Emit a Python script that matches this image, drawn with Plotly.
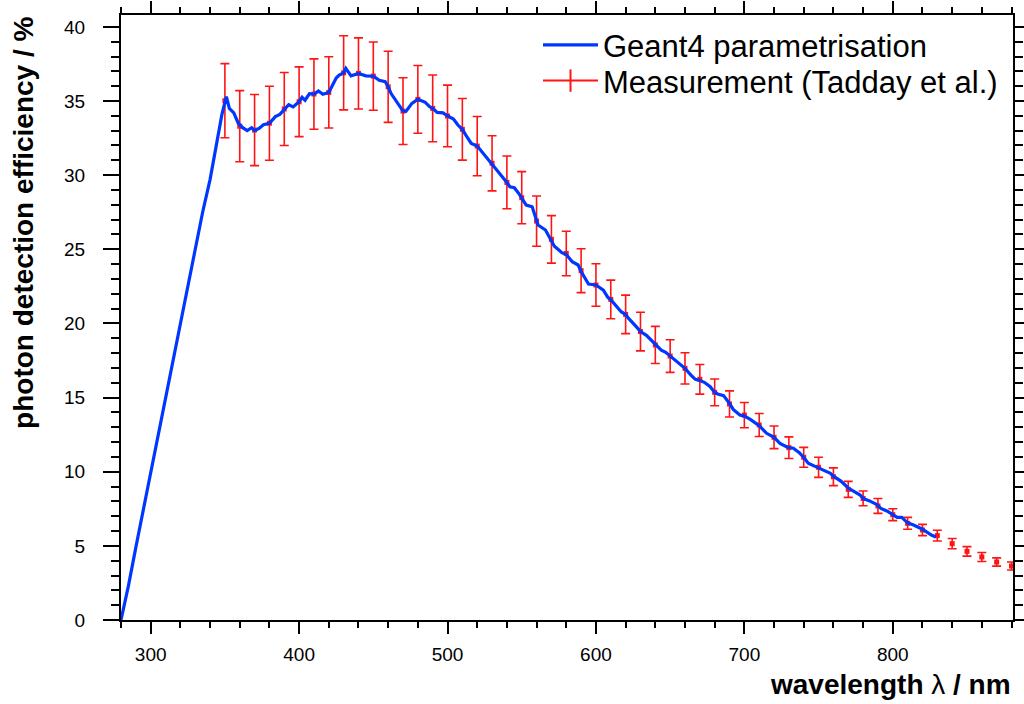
import plotly.graph_objects as go

# Measurement (Tadday et al.)
meas_wl = [350, 360, 370, 380, 390, 400, 410, 420, 430, 440, 450, 460, 470, 480, 490,
           500, 510, 520, 530, 540, 550, 560, 570, 580, 590, 600, 610, 620, 630, 640,
           650, 660, 670, 680, 690, 700, 710, 720, 730, 740, 750, 760, 770, 780, 790,
           800, 810, 820, 830, 840, 850, 860, 870, 880]
meas_eff = [35.02, 33.3, 33.04, 33.5, 34.46, 34.95, 35.47, 35.58, 36.9, 36.86, 36.68, 35.96, 34.32, 35.11, 34.5,
            33.99, 33.09, 31.96, 30.8, 29.51, 28.48, 26.9, 25.67, 24.72, 23.56, 22.59, 21.62, 20.61, 19.45, 18.55,
            17.8, 16.97, 16.23, 15.35, 14.57, 13.82, 13.15, 12.32, 11.62, 10.97, 10.3, 9.66, 8.81, 8.2, 7.69,
            7.1, 6.52, 6.07, 5.69, 5.15, 4.63, 4.25, 3.91, 3.64]
meas_err = [2.5, 2.4, 2.4, 2.5, 2.46, 2.35, 2.37, 2.4, 2.5, 2.4, 2.3, 2.4, 2.25, 2.28, 2.25,
            2.08, 2.08, 2.0, 1.86, 1.78, 1.76, 1.69, 1.6, 1.5, 1.48, 1.43, 1.3, 1.3, 1.3, 1.25,
            1.1, 1.05, 1.0, 0.9, 0.88, 0.85, 0.78, 0.76, 0.73, 0.67, 0.68, 0.6, 0.54, 0.5, 0.5,
            0.4, 0.4, 0.38, 0.36, 0.35, 0.32, 0.3, 0.28, 0.27]

# Geant4 parametrisation
g4_wl = [280, 285, 290, 295, 300, 305, 310, 315, 320, 325, 330, 335, 340, 345, 348, 351,
         353, 356, 359, 362, 365, 368, 370, 373, 376, 380, 384, 387, 390, 393, 396, 400,
         402, 404, 407, 410, 413, 416, 420, 423, 425, 427, 430, 431.5, 435, 440, 445, 450,
         454, 458, 460, 462, 466, 470, 472, 476, 480, 485, 488, 490, 493, 497, 500, 504,
         507, 510, 513, 516, 520, 524, 530, 536, 540, 542, 545, 548, 550, 553, 557, 559,
         561, 566, 570, 572, 575, 577, 580, 584, 588, 590, 595, 600, 605, 608, 610, 613,
         617, 620, 622, 627, 630, 634, 637, 640, 644, 647, 650, 654, 657, 660, 664, 667,
         670, 673, 677, 680, 682, 686, 690, 692.5, 697, 700, 704, 707, 710, 715, 720, 724,
         729, 733, 737, 740, 743, 748, 750, 754, 758, 760, 765, 770, 775, 778, 780, 784,
         789, 792, 796, 800, 803, 806, 810, 814, 820, 826, 829]
g4_eff = [0.0, 2.3, 4.9, 7.4, 10.0, 12.4, 14.9, 17.4, 19.8, 22.4, 25.0, 27.5, 29.7, 32.5, 34.1, 35.3,
          34.5, 34.2, 33.5, 33.2, 33.0, 33.2, 33.0, 33.15, 33.4, 33.5, 33.95, 34.1, 34.46, 34.75, 34.6, 34.95,
          35.25, 35.05, 35.5, 35.47, 35.67, 35.45, 35.58, 36.1, 36.55, 36.75, 36.9, 37.2, 36.7, 36.86, 36.7, 36.68,
          36.4, 36.3, 35.96, 35.5, 34.95, 34.32, 34.3, 34.84, 35.11, 34.91, 34.61, 34.5, 34.23, 34.2, 33.99, 33.78,
          33.38, 33.09, 32.59, 32.14, 31.96, 31.47, 30.8, 30.0, 29.51, 29.22, 29.15, 28.77, 28.48, 27.98, 27.87, 27.2,
          26.64, 26.3, 25.62, 25.2, 24.95, 24.77, 24.65, 24.16, 23.94, 23.5, 22.66, 22.59, 22.25, 21.76, 21.6, 21.24,
          20.79, 20.6, 20.34, 19.8, 19.45, 19.2, 18.9, 18.55, 18.2, 18.05, 17.8, 17.4, 17.2, 16.97, 16.52, 16.23,
          16.15, 16.03, 15.73, 15.35, 15.24, 15.13, 14.6, 14.2, 13.82, 13.75, 13.53, 13.3, 13.1, 12.59, 12.32, 11.91,
          11.65, 11.58, 11.28, 10.97, 10.57, 10.34, 10.25, 10.05, 9.89, 9.7, 9.37, 8.9, 8.6, 8.43, 8.2, 8.05,
          7.8, 7.53, 7.35, 7.13, 6.92, 6.92, 6.55, 6.41, 6.12, 5.73, 5.6]

x_ticks = [300, 400, 500, 600, 700, 800]
y_ticks = [0, 5, 10, 15, 20, 25, 30, 35, 40]

FONT = "Liberation Sans, Arial, Helvetica, sans-serif"
RED = "rgb(255,20,20)"
BLUE = "rgb(0,55,255)"

fig = go.Figure()

fig.add_trace(go.Scatter(
    x=meas_wl, y=meas_eff, mode="markers",
    marker=dict(color=RED, size=5, symbol="square"),
    error_y=dict(type="data", array=meas_err, visible=True, color=RED, thickness=1.6, width=4.5),
    showlegend=False, hoverinfo="x+y",
))

fig.add_trace(go.Scatter(
    x=g4_wl, y=g4_eff, mode="lines",
    line=dict(color=BLUE, width=3.2),
    name="Geant4 parametrisation", legend="legend",
))

# legend entry for measurement (line with vertical tick)
fig.add_trace(go.Scatter(
    x=[None], y=[None], mode="lines+markers",
    line=dict(color=RED, width=2),
    marker=dict(symbol="line-ns-open", size=16, color=RED, line=dict(color=RED, width=2)),
    name="Measurement (Tadday et al.)", legend="legend2",
))

axis_common = dict(
    showline=True, linecolor="black", linewidth=2, mirror="allticks",
    ticks="outside", tickcolor="black", tickwidth=1.5,
    showgrid=False, zeroline=False, automargin=False,
    tickfont=dict(family=FONT, size=19, color="black"),
)

fig.update_xaxes(
    range=[280, 881], tickvals=x_ticks, ticklen=12, ticklabelstandoff=4,
    minor=dict(dtick=20, tick0=280, ticks="outside", ticklen=6, tickcolor="black", tickwidth=1.5, showgrid=False),
    **axis_common,
)
fig.update_yaxes(
    range=[0, 40.8], tickvals=y_ticks, ticklen=16, ticklabelstandoff=14,
    minor=dict(dtick=1, tick0=0, ticks="outside", ticklen=8, tickcolor="black", tickwidth=1.5, showgrid=False),
    **axis_common,
)

legend_common = dict(
    x=0.4675, xanchor="left", yanchor="middle",
    bgcolor="rgba(0,0,0,0)", borderwidth=0,
    font=dict(family=FONT, size=31, color="black"),
    itemwidth=55,
)

fig.update_layout(
    width=1024, height=704,
    margin=dict(l=121, r=11, t=15, b=84, autoexpand=False),
    paper_bgcolor="white", plot_bgcolor="white",
    font=dict(family=FONT, color="black"),
    legend=dict(y=0.950, **legend_common),
    legend2=dict(y=0.891, **legend_common),
    annotations=[
        dict(text="<b>wavelength</b> λ <b>/ nm</b>", xref="paper", yref="paper",
             x=1.0, y=-0.1074, xanchor="right", yanchor="middle", showarrow=False,
             font=dict(family=FONT, size=28, color="black")),
        dict(text="<b>photon detection efficiency / %</b>", xref="paper", yref="paper",
             x=-0.1100, y=1.0, xanchor="center", yanchor="top", textangle=-90, showarrow=False,
             font=dict(family=FONT, size=28, color="black")),
    ],
)

fig.write_html("out.html")
